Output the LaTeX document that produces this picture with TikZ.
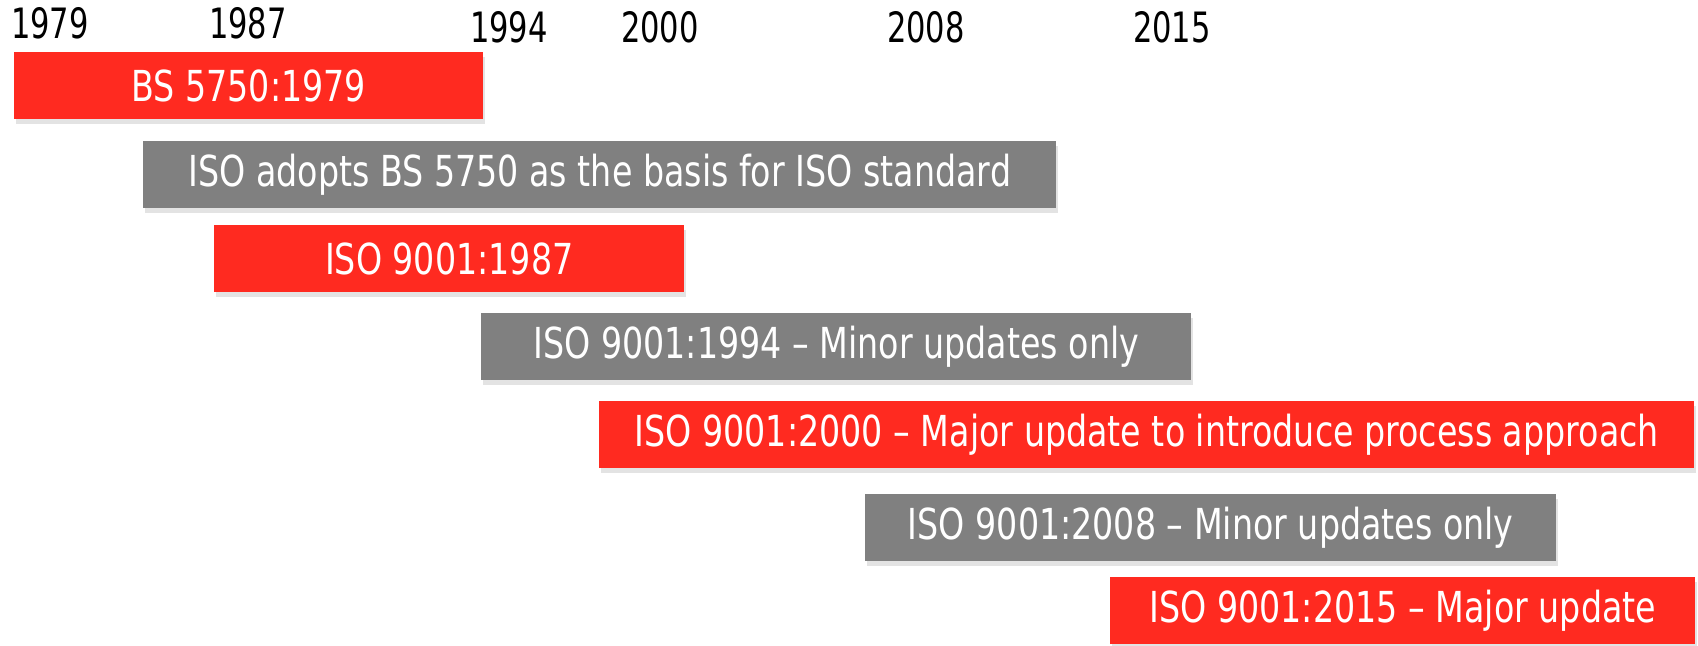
\documentclass[tikz,border=0pt]{standalone}
\usepackage{fontspec}
\setmainfont{DejaVu Sans}[FakeStretch=0.78]
\newfontfamily\yearfont{DejaVu Sans}[FakeStretch=0.73]
\usetikzlibrary{shadows,positioning}
\definecolor{isored}{RGB}{255,42,32}
\definecolor{isogray}{RGB}{128,128,128}

\begin{document}
\begin{tikzpicture}[x=0.02cm, y=-0.02cm,
    bar/.style={rectangle, anchor=north west, inner sep=0pt, minimum height=1.34cm, text=white, font=\fontsize{24.3}{29}\selectfont, drop shadow={opacity=0.22, shadow xshift=0.04cm, shadow yshift=-0.1cm}},
    redbar/.style={bar, fill=isored},
    graybar/.style={bar, fill=isogray},
    year/.style={text=black, inner sep=0pt, font=\yearfont\fontsize{23.8}{28}\selectfont}
]
    \useasboundingbox (0,0) rectangle (1698,646);

    % years along the top
    \node[year] (y1) at (50,23) {1979};
    \node[year] (y2) at (248,23) {1987};
    \node[year] (y3) at (509,27) {1994};
    \node[year] (y4) at (660,27) {2000};
    \node[year] (y5) at (926,27) {2008};
    \node[year] (y6) at (1172,27) {2015};

    % bars
    \node[redbar, minimum width=9.38cm] (b1) at (14,52) {BS 5750:1979};
    \node[graybar, minimum width=18.26cm] (b2) at (143,141) {ISO adopts BS 5750 as the basis for ISO standard};
    \node[redbar, minimum width=9.4cm] (b3) at (214,225) {ISO 9001:1987};
    \node[graybar, minimum width=14.2cm] (b4) at (481,313) {ISO 9001:1994 – Minor updates only};
    \node[redbar, minimum width=21.9cm] (b5) at (599,401) {ISO 9001:2000 – Major update to introduce process approach};
    \node[graybar, minimum width=13.82cm] (b6) at (865,494) {ISO 9001:2008 – Minor updates only};
    \node[redbar, minimum width=11.7cm] (b7) at (1110,577) {ISO 9001:2015 – Major update};
\end{tikzpicture}
\end{document}
